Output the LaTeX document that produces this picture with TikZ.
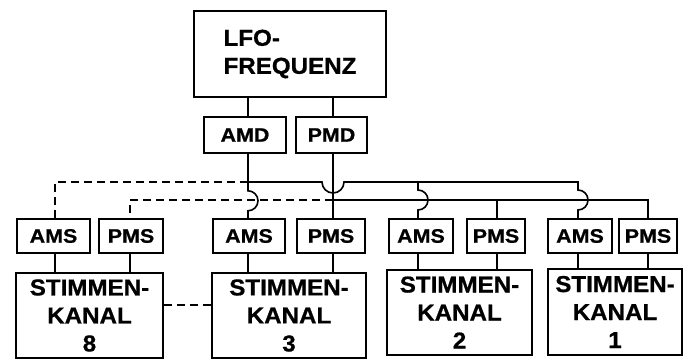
\documentclass[tikz,border=0pt]{standalone}
\usepackage{fontspec}
\newfontfamily\bigfont[FakeStretch=1.05,FakeBold=0.8]{Liberation Sans}
\newfontfamily\smallfont[FakeStretch=1.1,FakeBold=0.8]{Liberation Sans}
\begin{document}
\begin{tikzpicture}[x=1pt,y=1pt,
  box/.style={draw,line width=1.6pt,inner sep=0pt},
  bigtxt/.style={font=\bigfont\bfseries\fontsize{23}{28}\selectfont},
  smalltxt/.style={font=\smallfont\bfseries\fontsize{19.5}{22}\selectfont},
  wire/.style={line width=1.6pt},
  dwire/.style={line width=1.6pt,dash pattern=on 8pt off 5pt}]
\useasboundingbox (0,0) rectangle (693,360);
% boxes
\node[box,bigtxt,align=left,minimum width=192pt,minimum height=86pt] (lfo) at (290,306) {LFO-\\FREQUENZ};
\node[box,smalltxt,minimum width=82pt,minimum height=36pt] (amd) at (245,225) {AMD};
\node[box,smalltxt,minimum width=71pt,minimum height=36pt] (pmd) at (331.5,225) {PMD};
\node[box,smalltxt,minimum width=73pt,minimum height=34pt] (ams8) at (53.5,124) {AMS};
\node[box,smalltxt,minimum width=64pt,minimum height=34pt] (pms8) at (131,124) {PMS};
\node[box,smalltxt,minimum width=72pt,minimum height=34pt] (ams3) at (249,124) {AMS};
\node[box,smalltxt,minimum width=68pt,minimum height=34pt] (pms3) at (331,124) {PMS};
\node[box,smalltxt,minimum width=64pt,minimum height=34pt] (ams2) at (421,124) {AMS};
\node[box,smalltxt,minimum width=58pt,minimum height=34pt] (pms2) at (496,124) {PMS};
\node[box,smalltxt,minimum width=64pt,minimum height=34pt] (ams1) at (580,124) {AMS};
\node[box,smalltxt,minimum width=58pt,minimum height=34pt] (pms1) at (648,124) {PMS};
\node[box,bigtxt,align=center,minimum width=147pt,minimum height=85pt] (st8) at (89.5,44.5) {STIMMEN-\\KANAL\\8};
\node[box,bigtxt,align=center,minimum width=154pt,minimum height=85pt] (st3) at (289,44.5) {STIMMEN-\\KANAL\\3};
\node[box,bigtxt,align=center,minimum width=145pt,minimum height=85pt] (st2) at (459.5,47.5) {STIMMEN-\\KANAL\\2};
\node[box,bigtxt,align=center,minimum width=134pt,minimum height=86pt] (st1) at (615,48) {STIMMEN-\\KANAL\\1};
% bus coordinates
\coordinate (uL) at (55,178);
\coordinate (uJ) at (248,178);
\coordinate (u2) at (418,178);
\coordinate (uR) at (578,178);
\coordinate (lL) at (130,160);
\coordinate (lJ) at (333,160);
\coordinate (l2) at (497,160);
\coordinate (lR) at (648,160);
\coordinate (dashy) at (0,55);
% LFO to AMD / PMD
\draw[wire] (lfo.south -| uJ) -- (amd.north -| uJ);
\draw[wire] (lfo.south -| lJ) -- (pmd.north -| lJ);
% AMD line down with jump over lower bus
\draw[wire] (amd.south -| uJ) -- ++(0,-37) arc(90:-90:10) -- (uJ |- ams3.north);
% PMD line down
\draw[wire] (pmd.south -| lJ) -- (lJ |- pms3.north);
% upper bus
\draw[wire] (uJ) -- (322,178) arc(180:360:11) -- (uR) -- ++(0,-8) arc(90:-90:10) -- (uR |- ams1.north);
\draw[wire] (u2) -- ++(0,-8) arc(90:-90:10) -- (u2 |- ams2.north);
\draw[dwire] (uJ) -- (uL) -- (uL |- ams8.north);
% lower bus
\draw[wire] (lJ) -- (lR) -- (lR |- pms1.north);
\draw[wire] (l2) -- (l2 |- pms2.north);
\draw[dwire] (lJ) -- (lL) -- (lL |- pms8.north);
% modulation boxes to voice channels
\draw[wire] (uL |- ams8.south) -- (uL |- st8.north);
\draw[wire] (lL |- pms8.south) -- (lL |- st8.north);
\draw[wire] (uJ |- ams3.south) -- (uJ |- st3.north);
\draw[wire] (lJ |- pms3.south) -- (lJ |- st3.north);
\draw[wire] (u2 |- ams2.south) -- (u2 |- st2.north);
\draw[wire] (l2 |- pms2.south) -- (l2 |- st2.north);
\draw[wire] (uR |- ams1.south) -- (uR |- st1.north);
\draw[wire] (lR |- pms1.south) -- (lR |- st1.north);
% channel 8 to channel 3
\draw[dwire] (st8.east |- dashy) -- (st3.west |- dashy);
\end{tikzpicture}
\end{document}
